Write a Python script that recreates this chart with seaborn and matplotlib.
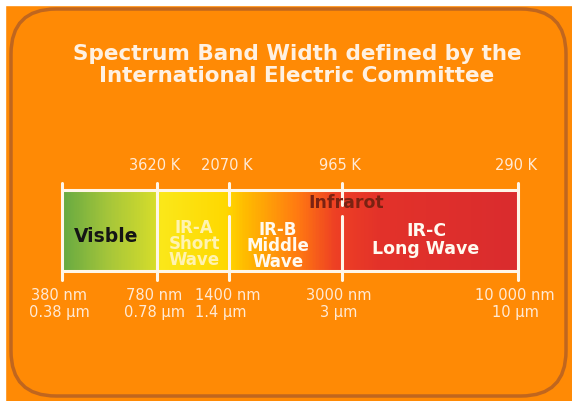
import numpy as np
import matplotlib
matplotlib.use("Agg")
import matplotlib.pyplot as plt
import seaborn as sns
from matplotlib.colors import LinearSegmentedColormap
from matplotlib.patches import FancyBboxPatch, Rectangle

# band boundaries (wavelength) and their schematic positions on the bar
wavelength_nm = ["380 nm", "780 nm", "1400 nm", "3000 nm", "10 000 nm"]
wavelength_um = ["0.38 µm", "0.78 µm", "1.4 µm", "3 µm", "10 µm"]
kelvin = ["", "3620 K", "2070 K", "965 K", "290 K"]
boundary_pos = [62, 157, 229, 342, 518]

bands = ["Visble", "IR-A\nShort\nWave", "IR-B\nMiddle\nWave", "IR-C\nLong Wave"]
band_colors = ["#151515", "#fff3b0", "#fffaf0", "#fffaf0"]

title = "Spectrum Band Width defined by the\nInternational Electric Committee"

sns.set_theme(style="white")
plt.rcParams['font.family'] = ['DejaVu Sans']

orange = "#ff8a05"
fig = plt.figure(figsize=(5.72, 4.01), dpi=100)
fig.patch.set_facecolor(orange)
ax = fig.add_axes([0, 0, 1, 1])
ax.set_xlim(0, 572)
ax.set_ylim(401, 0)
ax.axis("off")

# white margin top/left, rounded frame
ax.add_patch(Rectangle((0, 0), 572, 5, color="white", zorder=1))
ax.add_patch(Rectangle((0, 0), 5, 401, color="white", zorder=1))
ax.add_patch(FancyBboxPatch((11, 9), 555, 387, boxstyle="round,pad=0,rounding_size=45",
                            fc=orange, ec="#c0661e", lw=2.5, zorder=2))

ax.text(297, 65, title, ha="center", va="center", fontsize=15.5, fontweight="bold",
        color="#fff1e2", linespacing=1.08, zorder=5)

# gradient bar
x0, x1 = boundary_pos[0], boundary_pos[-1]
top, bot = 190, 271
cmap = LinearSegmentedColormap.from_list("spec", [
    (0.0, "#68aa42"), (0.10, "#a6c63a"), (0.20, "#d4dc2c"), (0.215, "#fbe81a"),
    (0.36, "#ffd800"), (0.40, "#ffbc00"), (0.52, "#ff7812"), (0.60, "#ee4024"),
    (0.70, "#e3322a"), (1.0, "#da2c2e")])
grad = np.linspace(0, 1, 400).reshape(1, -1)
ax.imshow(grad, cmap=cmap, aspect="auto", extent=(x0, x1, bot, top), zorder=3)

lc = "#fff6e8"
ax.plot([x0, x1], [top, top], color=lc, lw=2.2, zorder=4)
ax.plot([x0, x1], [bot, bot], color=lc, lw=2.2, zorder=4)
for i, x in enumerate(boundary_pos):
    if i in (2, 3):
        ax.plot([x, x], [183, 205], color=lc, lw=2.2, zorder=4)
        ax.plot([x, x], [216, 280], color=lc, lw=2.2, zorder=4)
    else:
        ax.plot([x, x], [183, 280], color=lc, lw=2.2, zorder=4)

# kelvin / wavelength labels
lab_color = "#ffead6"
for x, k, nm, um in zip(boundary_pos, kelvin, wavelength_nm, wavelength_um):
    ax.text(x - 2, 166, k, ha="center", va="center", fontsize=10.5, color=lab_color, zorder=5)
    if nm == "1400 nm":
        ax.text(x - 34, 296, nm, ha="left", va="center", fontsize=10.5, color=lab_color, zorder=5)
        ax.text(x - 34, 312, um, ha="left", va="center", fontsize=10.5, color=lab_color, zorder=5)
    else:
        ax.text(x - 3, 296, nm, ha="center", va="center", fontsize=10.5, color=lab_color, zorder=5)
        ax.text(x - 3, 312, um, ha="center", va="center", fontsize=10.5, color=lab_color, zorder=5)

# band names
band_x = [106, 194, 278, 426]
band_y = [236, 244, 246, 240]
band_size = [13.5, 12, 12, 12.5]
band_ls = [1.0, 0.86, 0.86, 0.98]
for b, c, bx, by, fs, ls in zip(bands, band_colors, band_x, band_y, band_size, band_ls):
    ax.text(bx, by, b, ha="center", va="center", fontsize=fs, fontweight="bold",
            color=c, linespacing=ls, zorder=5)

ax.text(346, 203, "Infrarot", ha="center", va="center", fontsize=12.5, fontweight="bold",
        color="#7a2212", zorder=5)

fig.savefig("out.png", dpi=100, facecolor=fig.get_facecolor())
